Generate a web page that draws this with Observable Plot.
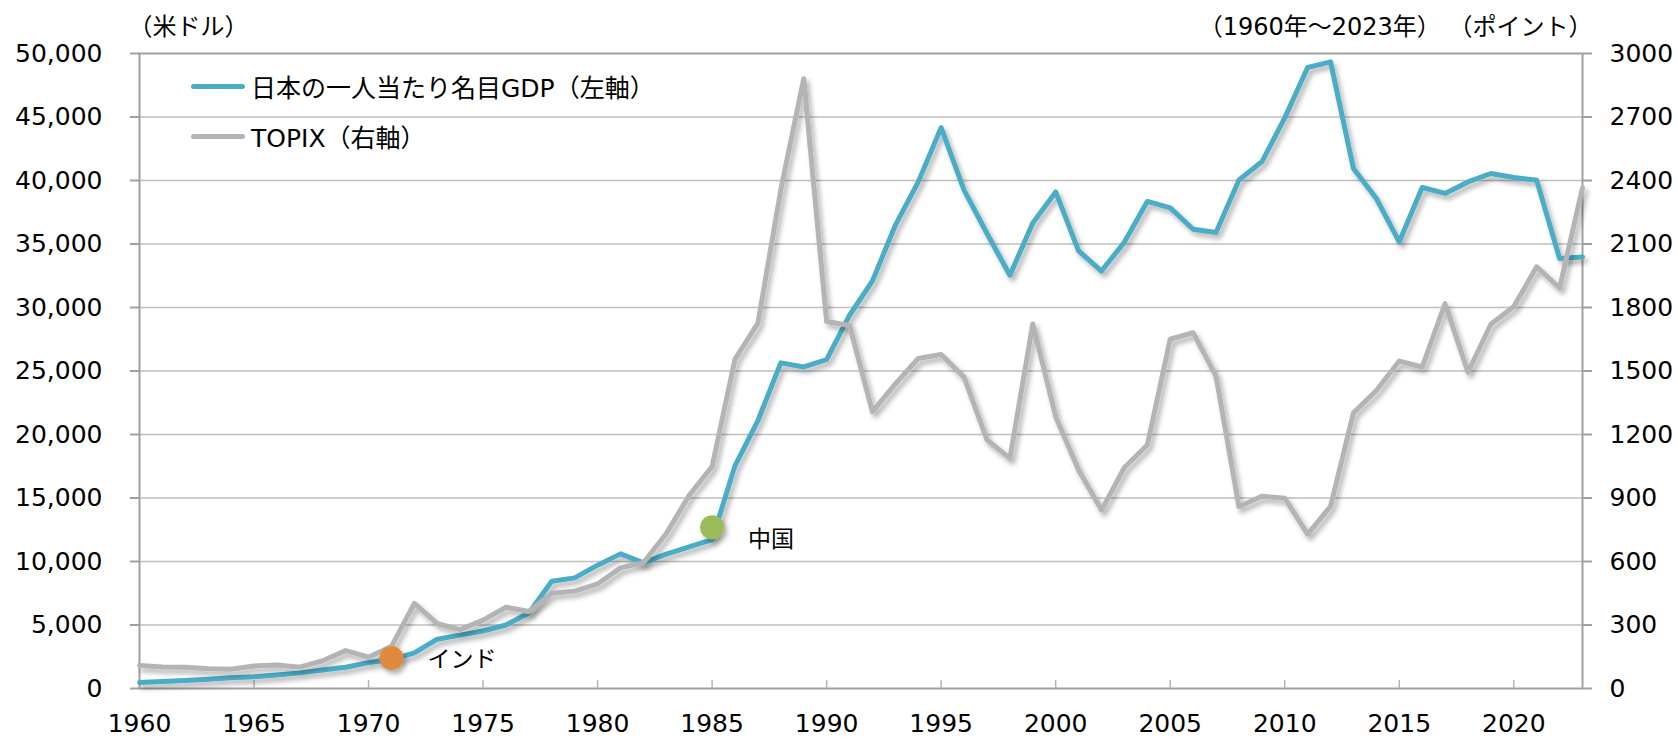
<!DOCTYPE html>
<html><head><meta charset="utf-8">
<script src="https://cdn.jsdelivr.net/npm/d3@7"></script>
<script src="https://cdn.jsdelivr.net/npm/@observablehq/plot@0.6"></script>
<style>
body{margin:0;background:#fff;}
#wrap{position:relative;width:1678px;height:738px;font-family:"DejaVu Sans","Noto Sans CJK JP",sans-serif;}
.leg{position:absolute;left:191px;height:30px;display:flex;align-items:center;font-size:25px;color:#000;white-space:nowrap;}
.sw{display:inline-block;width:54px;height:5px;border-radius:3px;margin-right:6px;}
</style></head><body><div id="wrap"></div>
<script>
const years = [1960,1961,1962,1963,1964,1965,1966,1967,1968,1969,1970,1971,1972,1973,1974,1975,1976,1977,1978,1979,1980,1981,1982,1983,1984,1985,1986,1987,1988,1989,1990,1991,1992,1993,1994,1995,1996,1997,1998,1999,2000,2001,2002,2003,2004,2005,2006,2007,2008,2009,2010,2011,2012,2013,2014,2015,2016,2017,2018,2019,2020,2021,2022,2023];
const gdp = [480,560,630,720,840,920,1060,1230,1450,1670,2040,2270,2800,3880,4200,4530,5000,5950,8450,8710,9710,10600,9890,10580,11150,11730,17550,21100,25640,25320,25900,29390,32100,36480,39890,44170,39240,35830,32540,36660,39100,34460,32870,35150,38350,37850,36160,35910,40040,41470,44930,48900,49340,40940,38580,35170,39450,38980,39890,40550,40240,40020,33860,33980];
const topix = [109,102,100,93,91,106,111,101,131,179,148,199,402,306,278,323,384,364,450,460,494,570,594,732,913,1049,1556,1726,2357,2881,1734,1715,1308,1439,1559,1578,1471,1175,1087,1722,1284,1032,843,1044,1150,1650,1681,1476,859,908,899,729,860,1302,1408,1547,1519,1818,1494,1721,1805,1992,1892,2366];
const seriesNames = ["日本の一人当たり名目GDP（左軸）","TOPIX（右軸）"];
const seriesColors = ["#4bacc6","#b4b4b4"];
const markerNames = ["インド","中国"];
const markerYears = [1971,1985];
const markerValues = [2400,12700];
const markerColors = ["#e08a3c","#9bbb59"];
const leftTicks = [0,5000,10000,15000,20000,25000,30000,35000,40000,45000,50000];
const rightTicks = [0,300,600,900,1200,1500,1800,2100,2400,2700,3000];
const xTicks = [1960,1965,1970,1975,1980,1985,1990,1995,2000,2005,2010,2015,2020];
const unitLeft = "（米ドル）";
const unitRight = "（1960年～2023年） （ポイント）";

const K = 50000/3000;
const rows = years.map((year,i)=>({year, gdp:gdp[i], topix:topix[i]}));
const markers = markerNames.map((name,i)=>({name, year:markerYears[i], value:markerValues[i], color:markerColors[i], lineValue:gdp[years.indexOf(markerYears[i])]}));
const font = '"DejaVu Sans","Noto Sans CJK JP",sans-serif';

const chart = Plot.plot({
  width:1678, height:738, marginLeft:139, marginRight:96, marginTop:53, marginBottom:50,
  style:{fontFamily:font, fontSize:"25px", color:"#000", background:"#fff"},
  x:{domain:[1960,2023]},
  y:{domain:[0,50000]},
  color:{type:"identity"},
  marks:[
    Plot.gridY(leftTicks.filter(v=>v>0&&v<50000),{stroke:"#bfbfbf",strokeWidth:1.5,strokeOpacity:1}),
    Plot.frame({stroke:"#a0a0a0",strokeWidth:2}),
    Plot.axisY(leftTicks,{anchor:"left",tickSize:9,tickPadding:28,tickFormat:d3.format(","),stroke:"#a0a0a0",strokeWidth:2,fill:"#000",fontSize:25,label:null}),
    Plot.axisY(rightTicks.map(v=>v*K),{anchor:"right",tickSize:9,tickPadding:18,tickFormat:v=>String(Math.round(v/K)),stroke:"#a0a0a0",strokeWidth:2,fill:"#000",fontSize:25,label:null}),
    Plot.axisX(xTicks,{anchor:"bottom",tickSize:-8,tickPadding:34,tickFormat:d=>String(d),stroke:"#b5b5b5",strokeWidth:1.5,fill:"#000",fontSize:25,label:null}),
    Plot.lineY(rows,{x:"year",y:"gdp",stroke:seriesColors[0],strokeWidth:5}),
    Plot.lineY(rows,{x:"year",y:d=>d.topix*K,stroke:seriesColors[1],strokeWidth:5}),
    Plot.dot(markers,{x:"year",y:"value",r:12,fill:"color",stroke:null}),
    Plot.text(markers,{x:"year",y:"lineValue",text:"name",dx:36,textAnchor:"start",lineAnchor:"middle",fontSize:23,fill:"#000"}),
    Plot.text([unitLeft],{frameAnchor:"top-left",dx:-11,dy:-26,textAnchor:"start",lineAnchor:"middle",fontSize:24,fill:"#000"}),
    Plot.text([unitRight],{frameAnchor:"top-right",dx:10,dy:-26,textAnchor:"end",lineAnchor:"middle",fontSize:24,fill:"#000"})
  ]
});

const ns = "http://www.w3.org/2000/svg";
const defs = document.createElementNS(ns,"defs");
defs.innerHTML = '<filter id="sh" x="-50%" y="-50%" width="200%" height="200%"><feDropShadow dx="3" dy="4" stdDeviation="2.5" flood-color="#000" flood-opacity="0.3"/></filter>';
chart.insertBefore(defs, chart.firstChild);
chart.querySelectorAll('g[aria-label="line"], g[aria-label="dot"]').forEach(g=>g.setAttribute("filter","url(#sh)"));

const wrap = document.getElementById("wrap");
wrap.appendChild(chart);
const legendY = [86,136];
seriesNames.forEach((name,i)=>{
  const row = document.createElement("div");
  row.className = "leg";
  row.style.top = (legendY[i]-15)+"px";
  const sw = document.createElement("span");
  sw.className = "sw";
  sw.style.background = seriesColors[i];
  row.appendChild(sw);
  row.appendChild(document.createTextNode(name));
  wrap.appendChild(row);
});
</script></body></html>
